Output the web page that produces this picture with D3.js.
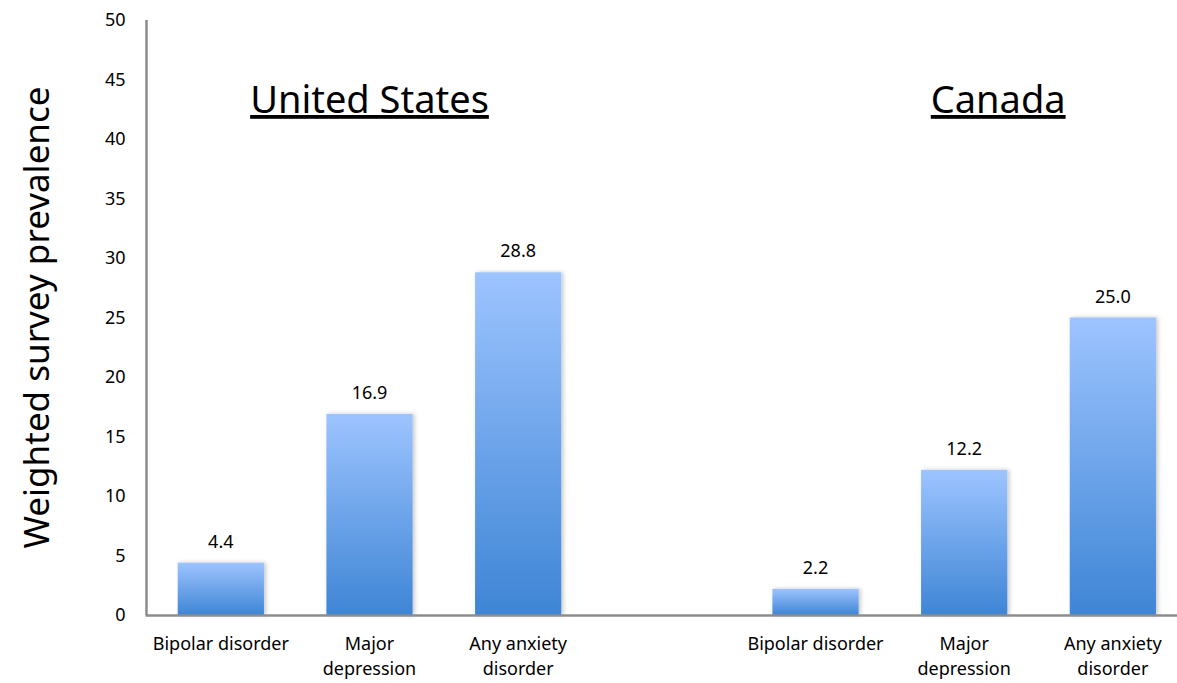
<!DOCTYPE html>
<html>
<head>
<meta charset="utf-8">
<script src="https://cdn.jsdelivr.net/npm/d3@7"></script>
<style>
  html, body { margin: 0; padding: 0; background: #fff; }
  svg { display: block; }
  text { font-family: "Noto Sans", "Open Sans", sans-serif; fill: #000; }
</style>
</head>
<body>
<svg id="chart" width="1177" height="683"></svg>
<script>
// ---- data ----
const countries = ["United States", "Canada"];
const categories = ["Bipolar disorder", "Major depression", "Any anxiety disorder"];
const categoryLines = [["Bipolar disorder"], ["Major", "depression"], ["Any anxiety", "disorder"]];
const usValues = [4.4, 16.9, 28.8];
const caValues = [2.2, 12.2, 25.0];
const yTicks = [0, 5, 10, 15, 20, 25, 30, 35, 40, 45, 50];
const yTitle = "Weighted survey prevalence";

// ---- build rows ----
const rows = [];
usValues.forEach((v, i) => rows.push({ key: "US-" + i, country: 0, cat: i, value: v }));
caValues.forEach((v, i) => rows.push({ key: "CA-" + i, country: 1, cat: i, value: v }));
const domain = ["US-0", "US-1", "US-2", "gap", "CA-0", "CA-1", "CA-2"];

const svg = d3.select("#chart");
const x0 = 146.5, plotBottom = 615, plotTop = 20;
const step = 148.67;
const x = d3.scaleBand().domain(domain).range([x0, x0 + step * domain.length])
  .paddingInner(0.42).paddingOuter(0.21);
const y = d3.scaleLinear().domain([0, 50]).range([plotBottom, plotTop]);

// defs
const defs = svg.append("defs");
const grad = defs.append("linearGradient").attr("id", "barGrad")
  .attr("x1", 0).attr("y1", 0).attr("x2", 0).attr("y2", 1);
grad.append("stop").attr("offset", "0%").attr("stop-color", "#9dc4ff");
grad.append("stop").attr("offset", "100%").attr("stop-color", "#3e85d5");
const filt = defs.append("filter").attr("id", "shadow")
  .attr("x", "-10%").attr("y", "-10%").attr("width", "125%").attr("height", "125%");
filt.append("feDropShadow").attr("dx", 2).attr("dy", 0).attr("stdDeviation", 2)
  .attr("flood-color", "#000").attr("flood-opacity", 0.22);

// y axis
const yAxis = d3.axisLeft(y).tickValues(yTicks).tickSize(0).tickPadding(21);
const gy = svg.append("g").attr("transform", `translate(${x0},0)`).call(yAxis);
gy.select(".domain").attr("stroke", "#8c8c8c").attr("stroke-width", 2.5)
  .attr("d", `M0,${plotTop}V${plotBottom}`);
gy.selectAll(".tick text").style("font-family", "'Noto Sans', 'Open Sans', sans-serif")
  .style("font-size", "18px").attr("fill", "#000");

// bars
svg.append("g").selectAll("rect").data(rows).join("rect")
  .attr("x", d => x(d.key))
  .attr("width", x.bandwidth())
  .attr("y", d => y(d.value))
  .attr("height", d => y(0) - y(d.value))
  .attr("fill", "url(#barGrad)")
  .attr("filter", "url(#shadow)");

// x axis baseline
svg.append("line").attr("x1", x0 - 1).attr("x2", 1177)
  .attr("y1", plotBottom + 0.5).attr("y2", plotBottom + 0.5)
  .attr("stroke", "#8c8c8c").attr("stroke-width", 2.5);

// value labels
svg.append("g").selectAll("text").data(rows).join("text")
  .attr("x", d => x(d.key) + x.bandwidth() / 2)
  .attr("y", d => y(d.value) - 15)
  .attr("text-anchor", "middle")
  .style("font-size", "18px")
  .text(d => d.value.toFixed(1));

// category labels
const cl = svg.append("g").selectAll("text").data(rows).join("text")
  .attr("x", d => x(d.key) + x.bandwidth() / 2)
  .attr("y", 650)
  .attr("text-anchor", "middle")
  .style("font-size", "18px");
cl.each(function (d) {
  const t = d3.select(this);
  categoryLines[d.cat].forEach((ln, i) => {
    t.append("tspan").attr("x", x(d.key) + x.bandwidth() / 2)
      .attr("dy", i === 0 ? 0 : 25).text(ln);
  });
});

// country titles
const titleX = [x("US-1") + x.bandwidth() / 2, x("CA-1") + x.bandwidth() / 2 + 34];
countries.forEach((c, i) => {
  svg.append("text").attr("x", titleX[i]).attr("y", 113)
    .attr("text-anchor", "middle")
    .style("font-size", "38px")
    .style("text-decoration", "underline")
    .style("text-decoration-thickness", "2.5px")
    .style("text-underline-offset", "8px")
    .text(c);
});

// y title
svg.append("text")
  .attr("transform", `translate(49,${(plotTop + plotBottom) / 2}) rotate(-90)`)
  .attr("text-anchor", "middle")
  .style("font-size", "35px")
  .text(yTitle);
</script>
</body>
</html>
